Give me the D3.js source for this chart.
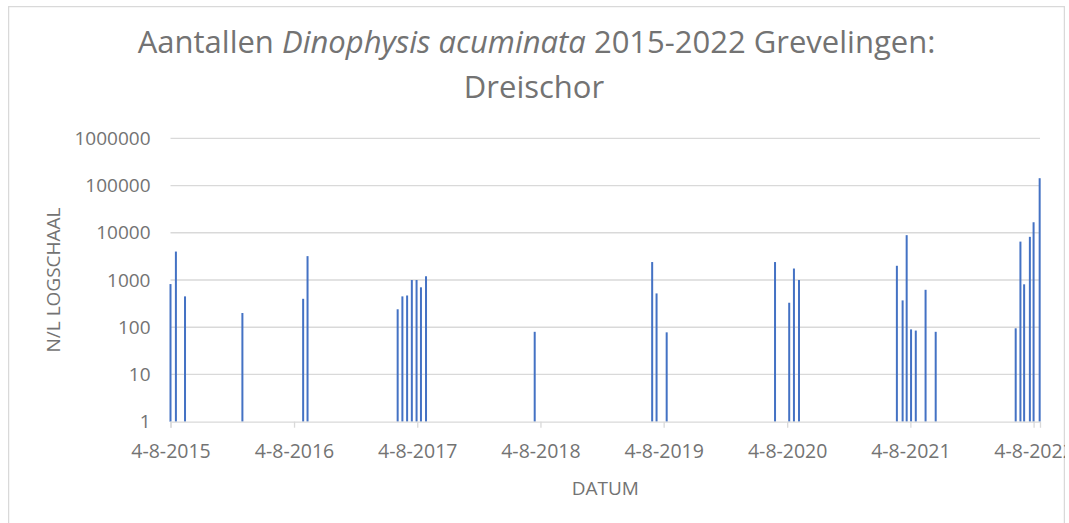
<!DOCTYPE html>
<html>
<head>
<meta charset="utf-8">
<script src="https://cdn.jsdelivr.net/npm/d3@7"></script>
<style>
  body { margin: 0; background: #fff; }
  text { font-family: "Open Sans", sans-serif; fill: #737373; }
</style>
</head>
<body>
<svg id="chart" width="1069" height="523"></svg>
<script>
// sample dates (d-m-yyyy) and Dinophysis acuminata counts in N/L
var sampleDates = [
    "4-8-2015", "20-8-2015", "16-9-2015", "4-3-2016", "31-8-2016", "13-9-2016",
    "7-6-2017", "21-6-2017", "5-7-2017", "19-7-2017", "2-8-2017", "15-8-2017", "30-8-2017",
    "18-7-2018",
    "1-7-2019", "14-7-2019", "13-8-2019",
    "29-6-2020", "10-8-2020", "24-8-2020", "8-9-2020",
    "25-6-2021", "12-7-2021", "24-7-2021", "6-8-2021", "20-8-2021", "18-9-2021", "18-10-2021",
    "12-6-2022", "26-6-2022", "7-7-2022", "24-7-2022", "4-8-2022", "22-8-2022"
];
var counts = [
    820, 4000, 450, 200, 400, 3200,
    240, 450, 470, 1000, 1000, 700, 1200,
    80,
    2400, 520, 78,
    2400, 330, 1750, 1000,
    2000, 370, 8900, 90, 85, 620, 80,
    95, 6500, 810, 8200, 16700, 143000
];
var xTickYears = [2015, 2016, 2017, 2018, 2019, 2020, 2021, 2022];
var yTickValues = [1, 10, 100, 1000, 10000, 100000, 1000000];

var titleLine1 = ["Aantallen ", "Dinophysis acuminata", " 2015-2022 Grevelingen:"];
var titleLine2 = "Dreischor";

var parseDate = d3.timeParse("%d-%m-%Y");
var fmtDate = d3.timeFormat("%-d-%-m-%Y");

var svg = d3.select("#chart");

var plotLeft = 170.5, plotRight = 1040, plotTop = 138.3, plotBottom = 421.7;

svg.append("clipPath").attr("id", "frameClip")
    .append("rect").attr("x", 8).attr("y", 6).attr("width", 1057).attr("height", 530);

var frame = svg.append("g").attr("clip-path", "url(#frameClip)");

frame.append("rect")
    .attr("x", 8.5).attr("y", 6.5)
    .attr("width", 1056).attr("height", 530)
    .attr("fill", "#fff")
    .attr("stroke", "#d9d9d9")
    .attr("stroke-width", 1.5);

var x = d3.scaleTime()
    .domain([new Date(2015, 7, 4), new Date(2022, 7, 23)])
    .range([plotLeft, plotRight]);

var y = d3.scaleLog()
    .domain([1, 1000000])
    .range([plotBottom, plotTop]);

// gridlines
frame.append("g").selectAll("line")
    .data(yTickValues.slice(1))
    .enter()
    .append("line")
    .attr("x1", plotLeft)
    .attr("x2", plotRight)
    .attr("y1", function (d) { return y(d); })
    .attr("y2", function (d) { return y(d); })
    .attr("stroke", "#d9d9d9")
    .attr("stroke-width", 1.3);

// y axis
var yAxis = frame.append("g")
    .attr("transform", "translate(" + plotLeft + ",0)")
    .call(d3.axisLeft(y).tickValues(yTickValues).tickFormat(d3.format("d")).tickSize(0).tickPadding(20));
yAxis.select(".domain").remove();
yAxis.selectAll("text")
    .style("font-family", "'Open Sans', sans-serif")
    .style("font-size", "19px")
    .attr("fill", "#737373");

// bars
frame.append("g").selectAll("rect")
    .data(sampleDates)
    .enter()
    .append("rect")
    .attr("x", function (d) { return x(parseDate(d)) - 1; })
    .attr("y", function (d, i) { return y(counts[i]); })
    .attr("width", 2)
    .attr("height", function (d, i) { return plotBottom - y(counts[i]); })
    .attr("fill", "#4472c4");

// x axis
var xTicks = xTickYears.map(function (yr) { return new Date(yr, 7, 4); });
var xAxis = frame.append("g")
    .attr("transform", "translate(0," + plotBottom + ")")
    .call(d3.axisBottom(x).tickValues(xTicks).tickFormat(fmtDate).tickSizeOuter(0).tickSize(6).tickPadding(16));
xAxis.select(".domain").attr("stroke", "#d9d9d9").attr("stroke-width", 1.3);
xAxis.selectAll(".tick line").attr("stroke", "#d9d9d9").attr("stroke-width", 1.3);
xAxis.selectAll("text")
    .style("font-family", "'Open Sans', sans-serif")
    .style("font-size", "19.5px")
    .attr("fill", "#737373");

// axis titles
frame.append("text")
    .attr("x", (plotLeft + plotRight) / 2)
    .attr("y", 495)
    .attr("text-anchor", "middle")
    .style("font-size", "19px")
    .text("DATUM");

frame.append("text")
    .attr("transform", "translate(60,280) rotate(-90)")
    .attr("text-anchor", "middle")
    .style("font-size", "19px")
    .text("N/L LOGSCHAAL");

// title
var t1 = frame.append("text")
    .attr("x", 536.5)
    .attr("y", 53)
    .attr("text-anchor", "middle")
    .style("font-size", "31px");
t1.selectAll("tspan")
    .data(titleLine1)
    .enter()
    .append("tspan")
    .style("font-style", function (d, i) { return i == 1 ? "italic" : "normal"; })
    .text(function (d) { return d; });

frame.append("text")
    .attr("x", 534)
    .attr("y", 98)
    .attr("text-anchor", "middle")
    .style("font-size", "31px")
    .text(titleLine2);
</script>
</body>
</html>
